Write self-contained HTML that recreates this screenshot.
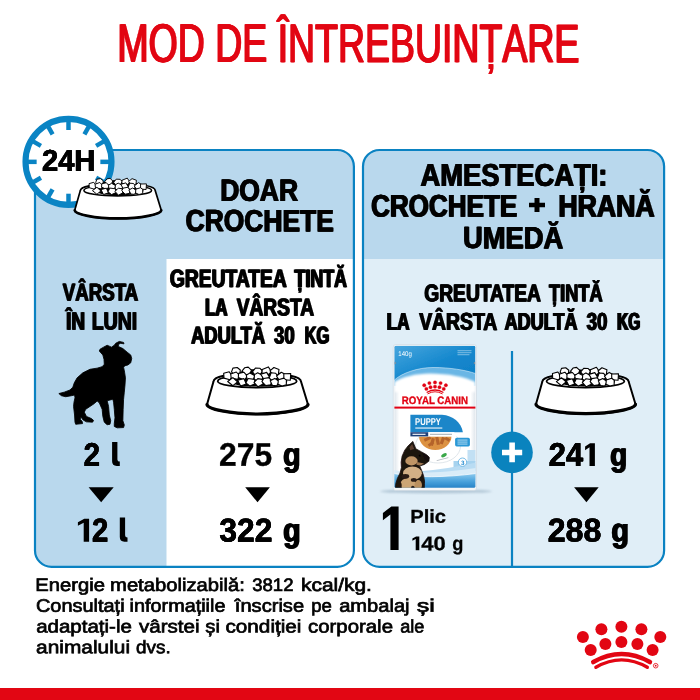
<!DOCTYPE html>
<html lang="ro"><head><meta charset="utf-8"><title>Mod de întrebuințare</title>
<style>
html,body{margin:0;padding:0;background:#fff;}
body{width:700px;height:700px;overflow:hidden;font-family:"Liberation Sans",sans-serif;}
svg{display:block;font-family:"Liberation Sans",sans-serif;text-rendering:geometricPrecision;}
</style></head><body>
<svg width="700" height="700" viewBox="0 0 700 700">
<defs>
<clipPath id="cpL"><rect x="35" y="150" width="318.9" height="416.9" rx="16.5" ry="16.5"/></clipPath>
<clipPath id="cpR"><rect x="363" y="150" width="301.1" height="416.9" rx="16.5" ry="16.5"/></clipPath>
<symbol id="bowl" viewBox="0 0 105 51" overflow="visible">
<path d="M8.5,16.5 C8.5,10.5 30,8.5 52,8.5 C75,8.5 96,10.500 96,16.5 L103,39.5 C103,44 80,49.3 52.5,49.3 C25,49.3 2,44 2,39.5 Z" fill="#fff" stroke="#000" stroke-width="2" stroke-linejoin="round"/>
<path d="M2,39.5 C2.5,44 25,49 52.5,49 C80,49 102.5,44 103,39.5" fill="none" stroke="#000" stroke-width="3.2" stroke-linecap="round"/>
<ellipse cx="52.2" cy="16.2" rx="39.5" ry="6.4" fill="#fff" stroke="#000" stroke-width="1.8"/>
<path d="M24,16 C24,11 30,8 36,6.500 C42,4 50,4 56,4 C64,4 72,6 77,9 C81,11 83,14 82,17.500 C76,21.500 60,22 50,21.500 C38,21.500 27,20 24,16 Z" fill="#000"/>
<g fill="#fff" stroke="#000" stroke-width="1.1" stroke-linejoin="round">
<path d="M26.5,6.9 L27.9,3.1 L32.2,2.5 L35.3,5.0 L34.8,9.3 L29.7,10.3 Z"/>
<path d="M39.6,2.8 L43.2,2.1 L46.4,5.2 L44.9,9.0 L40.0,9.9 L37.1,5.9 Z"/>
<path d="M57.4,5.9 L55.0,10.1 L49.5,9.4 L47.4,6.8 L50.4,3.1 L55.0,3.3 Z"/>
<path d="M57.0,8.0 L57.2,4.4 L63.3,1.9 L66.2,6.2 L64.2,9.3 Z"/>
<path d="M68.0,10.1 L64.9,5.8 L68.9,2.5 L74.0,4.4 L73.3,9.9 Z"/>
<path d="M27.6,11.2 L24.9,14.8 L19.0,13.1 L18.7,8.3 L24.2,6.8 Z"/>
<path d="M26.2,13.1 L25.7,9.0 L31.3,7.0 L35.2,11.2 L32.4,14.4 Z"/>
<path d="M42.5,11.2 L39.3,15.0 L33.3,12.5 L33.6,8.4 L39.0,7.3 Z"/>
<path d="M47.9,15.4 L42.2,14.7 L41.3,10.4 L44.9,7.9 L50.0,10.7 Z"/>
<path d="M52.1,16.1 L49.1,14.0 L49.5,9.6 L52.7,7.7 L57.7,10.5 L57.6,14.0 Z"/>
<path d="M64.8,12.7 L59.3,15.1 L55.7,9.2 L61.7,7.4 Z"/>
<path d="M66.1,7.8 L70.7,8.2 L73.6,12.3 L67.8,16.0 L64.1,13.4 Z"/>
<path d="M73.9,14.7 L71.5,11.0 L76.3,7.2 L81.1,9.8 L79.4,14.8 Z"/>
<path d="M85.7,8.6 L85.3,15.2 L78.9,14.7 L78.8,8.8 Z"/>
<path d="M32.5,16.9 L27.9,20.7 L22.7,16.5 L27.9,12.6 Z"/>
<path d="M35.6,21.1 L32.7,15.3 L38.9,13.6 L41.3,19.0 Z"/>
<path d="M43.0,13.5 L49.6,14.4 L50.1,18.8 L45.0,21.1 L40.9,17.9 Z"/>
<path d="M57.4,14.4 L58.1,19.1 L53.0,21.8 L49.0,17.4 L52.8,13.6 Z"/>
<path d="M56.9,16.6 L58.7,13.5 L64.0,12.6 L67.0,16.4 L65.6,19.7 L60.8,20.6 Z"/>
<path d="M65.2,15.7 L69.7,13.4 L74.3,16.5 L71.7,20.9 L67.4,20.4 Z"/>
<path d="M81.3,19.9 L77.0,21.0 L73.0,19.2 L73.3,14.8 L78.8,13.1 L81.4,15.1 Z"/>
</g>
</symbol>
</defs>
<g id="panelL">
<rect x="35" y="150" width="318.9" height="416.9" rx="16.5" ry="16.5" fill="#b9d8ed"/>
<rect x="166.5" y="259" width="200" height="320" fill="#fff" clip-path="url(#cpL)"/>
<rect x="35" y="150" width="318.9" height="416.9" rx="16.5" ry="16.5" fill="none" stroke="#0a82c2" stroke-width="2.2"/>
</g>
<g id="panelR">
<rect x="363" y="150" width="301.1" height="416.9" rx="16.5" ry="16.5" fill="#e0eef7"/>
<rect x="363" y="150" width="301" height="109" fill="#b9d8ed" clip-path="url(#cpR)"/>
<rect x="510.9" y="351" width="2.2" height="216" fill="#0a82c2"/>
<rect x="363" y="150" width="301.1" height="416.9" rx="16.5" ry="16.5" fill="none" stroke="#0a82c2" stroke-width="2.2"/>
<circle cx="512" cy="452.4" r="20.8" fill="#0a83be"/>
<path d="M502 449.8h7.3v-7.2h5.6v7.2h7.3v5.4h-7.3v7h-5.6v-7h-7.3z" fill="#fff"/>
</g>
<g id="clock">
<circle cx="68.5" cy="161.85" r="43" fill="#fff" stroke="#0a84c4" stroke-width="6.1"/>
<g stroke="#0a84c4" stroke-width="4.5" id="ticks">
<line x1="68.5" y1="121" x2="68.5" y2="130"/>
<line x1="68.5" y1="121" x2="68.5" y2="130" transform="rotate(30 68.5 161.85)"/>
<line x1="68.5" y1="121" x2="68.5" y2="130" transform="rotate(60 68.5 161.85)"/>
<line x1="68.5" y1="121" x2="68.5" y2="130" transform="rotate(90 68.5 161.85)"/>
<line x1="68.5" y1="121" x2="68.5" y2="130" transform="rotate(120 68.5 161.85)"/>
<line x1="68.5" y1="121" x2="68.5" y2="130" transform="rotate(150 68.5 161.85)"/>
<line x1="68.5" y1="121" x2="68.5" y2="130" transform="rotate(180 68.5 161.85)"/>
<line x1="68.5" y1="121" x2="68.5" y2="130" transform="rotate(210 68.5 161.85)"/>
<line x1="68.5" y1="121" x2="68.5" y2="130" transform="rotate(240 68.5 161.85)"/>
<line x1="68.5" y1="121" x2="68.5" y2="130" transform="rotate(270 68.5 161.85)"/>
<line x1="68.5" y1="121" x2="68.5" y2="130" transform="rotate(300 68.5 161.85)"/>
<line x1="68.5" y1="121" x2="68.5" y2="130" transform="rotate(330 68.5 161.85)"/>
</g>
</g>
<use href="#bowl" x="73" y="176.500" width="90" height="43.700"/>
<use href="#bowl" x="205" y="365" width="105" height="51"/>
<use href="#bowl" x="534" y="365.300" width="103.500" height="50.300"/>
<g id="dog" transform="translate(50,335) scale(0.142857)">
<path d="M62,410 L100,400 L140,385 L160,365 L170,335 L190,300 L230,265 L280,240 L330,232 L365,222 L380,205 L378,170 L370,140 L345,112 L350,100 L375,85 L400,72 L415,78 L430,85 L450,72 L460,58 L485,45 L515,52 L518,62 L495,58 L480,65 L478,80 L510,95 L540,120 L565,140 L572,165 L565,195 L545,210 L525,215 L515,225 L522,260 L528,300 L525,350 L520,400 L515,450 L512,520 L510,600 L520,630 L515,648 L470,650 L450,640 L450,620 L455,580 L450,520 L445,470 L440,450 L420,455 L400,460 L410,500 L415,560 L425,600 L420,625 L400,628 L380,610 L370,570 L365,520 L345,475 L330,462 L310,480 L280,500 L250,520 L240,540 L255,570 L290,585 L305,598 L298,610 L255,608 L232,595 L215,572 L212,590 L225,605 L228,620 L180,625 L175,610 L172,560 L165,500 L168,470 L175,440 L172,420 L150,425 L110,432 L80,425 Z" fill="#000" stroke="#000" stroke-width="6" stroke-linejoin="round"/>
</g>
<path id="plusTxt" d="M529,202.700 h5.500 v-4.700 h5 v4.700 h5.500 v4.600 h-5.500 v4.800 h-5 v-4.800 h-5.500 z" fill="#000"/>
<path id="one" d="M398.6,506.4 V550 H390.4 V514.6 L382.9,520.2 V512.9 L391.4,506.4 Z" fill="#000"/>
<path id="ones" d="M89.1,518.7 L89.1,541.7 L83.7,541.7 L83.7,522.8 L77.9,525.8 L77.9,522.2 L84.3,518.7 Z M594.9,443.2 L594.9,465.9 L589.5,465.9 L589.5,447.3 L585.1,450.2 L585.1,446.6 L590.1,443.2 Z M419.3,536.4 L419.3,550.3 L415.7,550.3 L415.7,538.9 L412.4,540.7 L412.4,538.5 L416.1,536.4 Z" fill="#000"/>
<path id="ells" d="M112.1,441.9 H117.4 V459.4 Q117.4,461.6 119.8,461.6 V465.9 H116.7 Q112.1,465.9 112.1,461.3 Z M119.8,517.6 H125.1 V535.2 Q125.1,537.4 127.5,537.4 V541.7 H124.4 Q119.8,541.7 119.8,537.1 Z" fill="#000"/>
<g id="tri" fill="#000">
<path d="M88.6,487.2 h25.1 l-12.55,15.1 z"/>
<path d="M245.2,487.2 h24.7 l-12.35,15.1 z"/>
<path d="M574.1,487.2 h24.6 l-12.3,15.1 z"/>
</g>
<g id="crown"><use href="#crownG"/><circle cx="655.7" cy="665.7" r="2.3" fill="none" stroke="#e20613" stroke-width="0.8"/><circle cx="655.7" cy="665.7" r="0.9" fill="#e20613"/></g>
<defs>
<linearGradient id="pgTop" x1="0" y1="0" x2="1" y2="1"><stop offset="0" stop-color="#47a6de"/><stop offset="0.55" stop-color="#1487cd"/><stop offset="1" stop-color="#0f7fc6"/></linearGradient>
<linearGradient id="pgWave" x1="0" y1="0" x2="0" y2="1"><stop offset="0" stop-color="#8ccaee"/><stop offset="0.5" stop-color="#46a0db"/><stop offset="1" stop-color="#1b78bf"/></linearGradient>
<linearGradient id="pgSide" x1="0" y1="0" x2="1" y2="0"><stop offset="0" stop-color="#dfe6ec"/><stop offset="0.06" stop-color="#ffffff"/><stop offset="0.94" stop-color="#ffffff"/><stop offset="1" stop-color="#dfe6ec"/></linearGradient>
<clipPath id="cpP"><rect x="394.4" y="345.8" width="81" height="142" rx="1.5"/></clipPath>
<clipPath id="cpPlate"><rect x="410" y="436.4" width="66" height="40"/></clipPath>
<filter id="blurS" x="-5%" y="-5%" width="110%" height="110%"><feGaussianBlur stdDeviation="0.45"/></filter>
<filter id="blurE" x="-10%" y="-30%" width="120%" height="160%"><feGaussianBlur stdDeviation="0.9"/></filter>
<filter id="blurM" x="-20%" y="-20%" width="140%" height="140%"><feGaussianBlur stdDeviation="1.2"/></filter>
<filter id="blurD" x="-10%" y="-10%" width="120%" height="120%"><feGaussianBlur stdDeviation="4"/></filter>
<g id="crownG" fill="#e20613">
<circle cx="582.9" cy="637.1" r="6"/><circle cx="601.4" cy="629.3" r="6"/><circle cx="621.4" cy="626.7" r="6"/><circle cx="641.4" cy="629.3" r="6"/><circle cx="660.3" cy="637.1" r="6"/>
<circle cx="590.7" cy="650" r="6"/><circle cx="605.4" cy="644" r="6"/><circle cx="621.4" cy="641.9" r="6"/><circle cx="637.4" cy="644" r="6"/><circle cx="652.6" cy="650" r="6"/>
<path d="M593.3,662 Q621.6,646 649.9,662" fill="none" stroke="#e20613" stroke-width="4.6" stroke-linecap="round"/>
<path d="M595.9,667.3 Q621.6,652.5 647.3,667.3" fill="none" stroke="#e20613" stroke-width="3.4" stroke-linecap="round"/>
</g>
</defs>
<g id="pouch">
<ellipse cx="436" cy="491.3" rx="56" ry="2.2" fill="#8fa9bd" opacity="0.55" filter="url(#blurM)"/>
<g filter="url(#blurS)">
<rect x="393.2" y="344.6" width="83.3" height="146" rx="2.5" fill="#f3f6f8" stroke="#c5d0da" stroke-width="0.5"/>
<g clip-path="url(#cpP)">
<rect x="394.4" y="345.8" width="81" height="143.6" fill="url(#pgSide)"/>
<!-- top band -->
<rect x="394.4" y="345.8" width="81" height="40" fill="#6ab6e5"/>
<path d="M394.4,382 C402,377 416,373.500 430,373.500 C448,373.500 465,377 475.4,382 V392 H394.4 Z" fill="#fff" filter="url(#blurE)"/>
<path d="M394.4,345.8 H475.4 V373.500 C465,370 450,367.500 433,367.500 C418,367.500 402,373 394.4,380 Z" fill="url(#pgTop)"/>
<path d="M394.4,380 C402,373 418,367.500 433,367.500 C450,367.500 465,370 475.4,373.500" fill="none" stroke="#fff" stroke-width="0.600" opacity="0.800"/>
<text x="398.300" y="355.900" font-size="6.800" fill="#fff" textLength="13.500" lengthAdjust="spacingAndGlyphs">140g</text>
<g fill="#fff" opacity="0.5"><rect x="457.500" y="350.300" width="14" height="0.9"/><rect x="457.500" y="352.300" width="14" height="0.9"/><rect x="457.500" y="354.300" width="12" height="0.9"/></g>
<path d="M394.400,361.500 l2,1.600 l-2,1.600 z M475.400,361.500 l-2,1.600 l2,1.600 z" fill="#8a8f96"/>
<!-- logo -->
<use href="#crownG" transform="translate(261,206.900) scale(0.28)" stroke="#e20613" stroke-width="1.2"/>
<text transform="translate(401.800,404.400) scale(1.020,1)" font-size="10.800" font-weight="bold" fill="#e20613" stroke="#e20613" stroke-width="0.35" textLength="64.900" lengthAdjust="spacingAndGlyphs">ROYAL CANIN</text>
<rect x="393" y="406.600" width="84" height="2" fill="#e20613"/>
<!-- plate + food -->
<g clip-path="url(#cpPlate)">
<ellipse cx="438" cy="446" rx="22.500" ry="17" fill="#fff" stroke="#d3dbe3" stroke-width="0.700"/>
<path d="M419,436 H451.500 A16.250,14 0 0 1 419,436 Z" fill="#dc9243"/>
<g fill="#b5642b"><rect x="424" y="437.500" width="7" height="3" transform="rotate(-25 427 439)"/><rect x="431" y="438" width="3.200" height="7.500" transform="rotate(15 432 441)"/><rect x="436" y="437" width="3.200" height="8" transform="rotate(-12 437 441)"/><rect x="441" y="437" width="3.200" height="7" transform="rotate(20 442 440)"/><rect x="445" y="437.500" width="5" height="3" transform="rotate(30 447 439)"/><rect x="428" y="442.500" width="6" height="2.800" transform="rotate(-35 431 444)"/></g>
</g>
<!-- PUPPY label -->
<path d="M410.400,414.700 H442 C453,415.500 461,422 462.900,432.200 H410.400 Z" fill="#1f86c9"/>
<text transform="translate(415.100,425) scale(0.760,1)" font-size="10" font-weight="bold" fill="#fff">PUPPY</text>
<rect x="415.300" y="427.300" width="27" height="1.500" fill="#fff" opacity="0.700"/>
<rect x="410.400" y="432.200" width="44" height="4.200" fill="#fff"/>
<rect x="410.400" y="432.200" width="17.800" height="4.200" fill="#1d3f7a"/>
<rect x="412.500" y="433.700" width="13" height="1.300" fill="#fff" opacity="0.850"/>
<rect x="430" y="433.800" width="22" height="1" fill="#7b8792" opacity="0.700"/>
<!-- small blue box -->
<rect x="455.100" y="437.800" width="14.800" height="8.600" rx="1.600" fill="#2a98d6"/>
<g fill="#fff" opacity="0.700"><rect x="457.500" y="439.600" width="10" height="0.900"/><rect x="457.500" y="441.600" width="10" height="0.900"/><rect x="457.500" y="443.600" width="10" height="0.900"/></g>
<ellipse cx="444" cy="455.300" rx="3.100" ry="1.700" transform="rotate(-28 444 455.300)" fill="#3aa84a"/>
<rect x="436.500" y="458.800" width="12" height="0.900" fill="#7b8792" opacity="0.600" transform="rotate(-14 442 459)"/>
<!-- steps and waves -->
<path d="M467.500,450 H476 V462 H467.500 Z" fill="#c2e0f4"/>
<path d="M453.500,461 H476 V471 H453.500 Z" fill="#a7d3ef"/>
<path d="M418,471.500 C438,470 458,466.500 476,462.500 V480 H418 Z" fill="#b9dcf3"/>
<path d="M394,470 C410,474 440,473.500 476,468 V480 H394 Z" fill="#d9ecf8"/>
<path d="M394,473.500 C415,478 445,477.500 476,473.500 V490 H394 Z" fill="url(#pgWave)"/>
<path d="M394,473.500 C415,478 445,477.500 476,473.500" fill="none" stroke="#fff" stroke-width="0.800" opacity="0.900"/>
<circle cx="462.500" cy="462.200" r="4.200" fill="#fff" stroke="#56abdf" stroke-width="0.800"/>
<text x="460.900" y="464.500" font-size="6.300" font-weight="bold" fill="#2a8fd2">3</text>
<!-- puppy -->
<g filter="url(#blurD)" transform="translate(388,430) scale(0.13428)">
<path d="M185,85 L207,140 L250,163 L290,186 L308,205 L304,232 L272,256 L236,268 L250,300 L265,340 L272,380 L270,446 L55,446 L58,400 L70,360 L90,320 L100,280 L98,240 L105,195 L125,150 L150,118 Z" fill="#1c1410" stroke="#1c1410" stroke-width="6" stroke-linejoin="round"/>
<path d="M180,105 L195,142 L165,150 L160,128 Z" fill="#5a3e2d"/>
<ellipse cx="175" cy="230" rx="46" ry="34" fill="#bf9566"/>
<path d="M215,238 L268,250 L240,264 L212,258 Z" fill="#9c7650"/>
<ellipse cx="182" cy="322" rx="70" ry="50" fill="#d2b086"/>
<ellipse cx="150" cy="405" rx="58" ry="48" fill="#cba575"/>
<ellipse cx="225" cy="410" rx="28" ry="38" fill="#b9905f"/>
<ellipse cx="130" cy="345" rx="28" ry="18" fill="#2a1d16"/>
<ellipse cx="192" cy="372" rx="22" ry="14" fill="#2a1d16"/>
<ellipse cx="84" cy="415" rx="18" ry="30" fill="#20160f"/>
<ellipse cx="185" cy="432" rx="14" ry="16" fill="#2a1d16"/>
<circle cx="236" cy="192" r="7" fill="#000"/>
<path d="M255,170 L306,202 L304,230 L275,222 Z" fill="#120d0a"/>
</g>
</g>
</g>
</g>

<rect x="0" y="688" width="700" height="12" fill="#e20613"/>

<g id="texts" opacity="0.999">
<text id="t0" transform="translate(117.42,61.75) skewY(0.05) scale(0.6922,1)" font-size="54.11" font-weight="normal" fill="#e20613" stroke="#e20613" stroke-width="0.50" vector-effect="non-scaling-stroke">MOD DE ÎNTREBUINȚARE</text>
<text id="t1" transform="translate(42.07,170.83) skewY(0.05) scale(0.9705,1)" font-size="29.96" font-weight="bold" fill="#000" stroke="#000" stroke-width="0.30" vector-effect="non-scaling-stroke">24H</text>
<text id="t2" transform="translate(220.15,200.72) skewY(0.05) scale(0.8665,1)" font-size="30.55" font-weight="bold" fill="#000" stroke="#000" stroke-width="0.30" vector-effect="non-scaling-stroke">DOAR</text>
<text id="t3" transform="translate(185.62,231.09) skewY(0.05) scale(0.8645,1)" font-size="30.55" font-weight="bold" fill="#000" stroke="#000" stroke-width="0.30" vector-effect="non-scaling-stroke">CROCHETE</text>
<text id="t4" transform="translate(62.72,300.52) skewY(0.05) scale(0.7698,1)" font-size="24.29" font-weight="bold" fill="#000" stroke="#000" stroke-width="0.30" vector-effect="non-scaling-stroke">VÂRSTA</text>
<text id="t5" transform="translate(66.18,329.44) skewY(0.05) scale(0.7671,1)" font-size="24.73" font-weight="bold" fill="#000" stroke="#000" stroke-width="0.30" vector-effect="non-scaling-stroke">ÎN</text>
<text id="t6" transform="translate(91.73,329.43) skewY(0.05) scale(0.7871,1)" font-size="24.73" font-weight="bold" fill="#000" stroke="#000" stroke-width="0.30" vector-effect="non-scaling-stroke">LUNI</text>
<text id="t7" transform="translate(169.87,286.90) skewY(0.05) scale(0.7649,1)" font-size="25.16" font-weight="bold" fill="#000" stroke="#000" stroke-width="0.30" vector-effect="non-scaling-stroke">GREUTATEA</text>
<text id="t8" transform="translate(294.57,286.93) skewY(0.05) scale(0.7071,1)" font-size="25.16" font-weight="bold" fill="#000" stroke="#000" stroke-width="0.30" vector-effect="non-scaling-stroke">ȚINTĂ</text>
<text id="t9" transform="translate(204.95,315.44) skewY(0.05) scale(0.6933,1)" font-size="24.44" font-weight="bold" fill="#000" stroke="#000" stroke-width="0.30" vector-effect="non-scaling-stroke">LA</text>
<text id="t10" transform="translate(236.69,315.42) skewY(0.05) scale(0.7840,1)" font-size="24.44" font-weight="bold" fill="#000" stroke="#000" stroke-width="0.30" vector-effect="non-scaling-stroke">VÂRSTA</text>
<text id="t11" transform="translate(191.18,343.42) skewY(0.05) scale(0.7490,1)" font-size="24.44" font-weight="bold" fill="#000" stroke="#000" stroke-width="0.30" vector-effect="non-scaling-stroke">ADULTĂ</text>
<text id="t12" transform="translate(273.96,343.44) skewY(0.05) scale(0.7611,1)" font-size="24.44" font-weight="bold" fill="#000" stroke="#000" stroke-width="0.30" vector-effect="non-scaling-stroke">30</text>
<text id="t13" transform="translate(304.61,343.44) skewY(0.05) scale(0.6726,1)" font-size="24.44" font-weight="bold" fill="#000" stroke="#000" stroke-width="0.30" vector-effect="non-scaling-stroke">KG</text>
<text id="t14" transform="translate(83.67,465.74) skewY(0.05) scale(0.9021,1)" font-size="32.58" font-weight="bold" fill="#000" stroke="#000" stroke-width="0.30" vector-effect="non-scaling-stroke">2</text>
<text id="t15" transform="translate(91.92,541.54) skewY(0.05) scale(0.8846,1)" font-size="33.02" font-weight="bold" fill="#000" stroke="#000" stroke-width="0.30" vector-effect="non-scaling-stroke">2</text>
<text id="t16" transform="translate(219.02,465.73) skewY(0.05) scale(0.9775,1)" font-size="32.58" font-weight="bold" fill="#000" stroke="#000" stroke-width="0.30" vector-effect="non-scaling-stroke">275</text>
<text id="t17" transform="translate(283.02,465.74) skewY(0.05) scale(0.8845,1)" font-size="32.58" font-weight="bold" fill="#000" stroke="#000" stroke-width="0.30" vector-effect="non-scaling-stroke">g</text>
<text id="t18" transform="translate(219.37,541.53) skewY(0.05) scale(0.9633,1)" font-size="33.02" font-weight="bold" fill="#000" stroke="#000" stroke-width="0.30" vector-effect="non-scaling-stroke">322</text>
<text id="t19" transform="translate(283.08,541.54) skewY(0.05) scale(0.8668,1)" font-size="33.02" font-weight="bold" fill="#000" stroke="#000" stroke-width="0.30" vector-effect="non-scaling-stroke">g</text>
<text id="t20" transform="translate(420.42,185.67) skewY(0.05) scale(0.8754,1)" font-size="31.27" font-weight="bold" fill="#000" stroke="#000" stroke-width="0.30" vector-effect="non-scaling-stroke">AMESTECAȚI:</text>
<text id="t21" transform="translate(371.11,216.49) skewY(0.05) scale(0.8365,1)" font-size="31.13" font-weight="bold" fill="#000" stroke="#000" stroke-width="0.30" vector-effect="non-scaling-stroke">CROCHETE</text>
<text id="t22" transform="translate(558.38,216.51) skewY(0.05) scale(0.8560,1)" font-size="31.13" font-weight="bold" fill="#000" stroke="#000" stroke-width="0.30" vector-effect="non-scaling-stroke">HRANĂ</text>
<text id="t23" transform="translate(463.07,248.11) skewY(0.05) scale(0.8949,1)" font-size="30.55" font-weight="bold" fill="#000" stroke="#000" stroke-width="0.30" vector-effect="non-scaling-stroke">UMEDĂ</text>
<text id="t24" transform="translate(424.28,301.20) skewY(0.05) scale(0.8006,1)" font-size="24.00" font-weight="bold" fill="#000" stroke="#000" stroke-width="0.30" vector-effect="non-scaling-stroke">GREUTATEA</text>
<text id="t25" transform="translate(549.04,301.23) skewY(0.05) scale(0.7578,1)" font-size="24.00" font-weight="bold" fill="#000" stroke="#000" stroke-width="0.30" vector-effect="non-scaling-stroke">ȚINTĂ</text>
<text id="t26" transform="translate(386.71,329.84) skewY(0.05) scale(0.7058,1)" font-size="24.29" font-weight="bold" fill="#000" stroke="#000" stroke-width="0.30" vector-effect="non-scaling-stroke">LA</text>
<text id="t27" transform="translate(419.16,329.82) skewY(0.05) scale(0.7975,1)" font-size="24.29" font-weight="bold" fill="#000" stroke="#000" stroke-width="0.30" vector-effect="non-scaling-stroke">VÂRSTA</text>
<text id="t28" transform="translate(504.59,329.82) skewY(0.05) scale(0.7431,1)" font-size="24.29" font-weight="bold" fill="#000" stroke="#000" stroke-width="0.30" vector-effect="non-scaling-stroke">ADULTĂ</text>
<text id="t29" transform="translate(586.63,329.84) skewY(0.05) scale(0.7712,1)" font-size="24.29" font-weight="bold" fill="#000" stroke="#000" stroke-width="0.30" vector-effect="non-scaling-stroke">30</text>
<text id="t30" transform="translate(617.14,329.84) skewY(0.05) scale(0.6341,1)" font-size="24.29" font-weight="bold" fill="#000" stroke="#000" stroke-width="0.30" vector-effect="non-scaling-stroke">KG</text>
<text id="t31" transform="translate(410.24,522.83) skewY(0.05) scale(1.0821,1)" font-size="18.62" font-weight="bold" fill="#000" stroke="#000" stroke-width="0.30" vector-effect="non-scaling-stroke">Plic</text>
<text id="t32" transform="translate(421.22,550.14) skewY(0.05) scale(1.1100,1)" font-size="19.78" font-weight="bold" fill="#000" stroke="#000" stroke-width="0.30" vector-effect="non-scaling-stroke">40</text>
<text id="t33" transform="translate(452.32,550.15) skewY(0.05) scale(0.9209,1)" font-size="19.78" font-weight="bold" fill="#000" stroke="#000" stroke-width="0.30" vector-effect="non-scaling-stroke">g</text>
<text id="t34" transform="translate(548.70,465.74) skewY(0.05) scale(0.9520,1)" font-size="32.58" font-weight="bold" fill="#000" stroke="#000" stroke-width="0.30" vector-effect="non-scaling-stroke">24</text>
<text id="t35" transform="translate(610.11,465.74) skewY(0.05) scale(0.8591,1)" font-size="32.58" font-weight="bold" fill="#000" stroke="#000" stroke-width="0.30" vector-effect="non-scaling-stroke">g</text>
<text id="t36" transform="translate(547.72,541.53) skewY(0.05) scale(0.9736,1)" font-size="33.02" font-weight="bold" fill="#000" stroke="#000" stroke-width="0.30" vector-effect="non-scaling-stroke">288</text>
<text id="t37" transform="translate(611.35,541.54) skewY(0.05) scale(0.8751,1)" font-size="33.02" font-weight="bold" fill="#000" stroke="#000" stroke-width="0.30" vector-effect="non-scaling-stroke">g</text>
<text transform="translate(35.34,591.02) skewY(0.05) scale(1.1187,1)" font-size="18.04" fill="#000" stroke="#000" stroke-width="0.70" vector-effect="non-scaling-stroke">Energie</text>
<text transform="translate(110.04,590.99) skewY(0.05) scale(1.1212,1)" font-size="18.04" fill="#000" stroke="#000" stroke-width="0.70" vector-effect="non-scaling-stroke">metabolizabilă:</text>
<text transform="translate(252.20,591.03) skewY(0.05) scale(1.0295,1)" font-size="18.04" fill="#000" stroke="#000" stroke-width="0.70" vector-effect="non-scaling-stroke">3812</text>
<text transform="translate(300.99,591.02) skewY(0.05) scale(1.1595,1)" font-size="18.04" fill="#000" stroke="#000" stroke-width="0.70" vector-effect="non-scaling-stroke">kcal/kg.</text>
<text transform="translate(35.95,611.71) skewY(0.05) scale(1.1051,1)" font-size="18.04" fill="#000" stroke="#000" stroke-width="0.70" vector-effect="non-scaling-stroke">Consultați</text>
<text transform="translate(129.56,611.71) skewY(0.05) scale(1.0998,1)" font-size="18.04" fill="#000" stroke="#000" stroke-width="0.70" vector-effect="non-scaling-stroke">informațiile</text>
<text transform="translate(234.85,611.72) skewY(0.05) scale(1.1140,1)" font-size="18.04" fill="#000" stroke="#000" stroke-width="0.70" vector-effect="non-scaling-stroke">înscrise</text>
<text transform="translate(311.23,611.74) skewY(0.05) scale(1.0308,1)" font-size="18.04" fill="#000" stroke="#000" stroke-width="0.70" vector-effect="non-scaling-stroke">pe</text>
<text transform="translate(339.15,611.72) skewY(0.05) scale(1.1155,1)" font-size="18.04" fill="#000" stroke="#000" stroke-width="0.70" vector-effect="non-scaling-stroke">ambalaj</text>
<text transform="translate(416.72,611.74) skewY(0.05) scale(1.3905,1)" font-size="18.04" fill="#000" stroke="#000" stroke-width="0.70" vector-effect="non-scaling-stroke">și</text>
<text transform="translate(36.13,632.51) skewY(0.05) scale(1.1370,1)" font-size="18.04" fill="#000" stroke="#000" stroke-width="0.70" vector-effect="non-scaling-stroke">adaptați-le</text>
<text transform="translate(138.95,632.52) skewY(0.05) scale(1.1423,1)" font-size="18.04" fill="#000" stroke="#000" stroke-width="0.70" vector-effect="non-scaling-stroke">vârstei</text>
<text transform="translate(205.34,632.54) skewY(0.05) scale(1.1265,1)" font-size="18.04" fill="#000" stroke="#000" stroke-width="0.70" vector-effect="non-scaling-stroke">și</text>
<text transform="translate(225.52,632.52) skewY(0.05) scale(1.1472,1)" font-size="18.04" fill="#000" stroke="#000" stroke-width="0.70" vector-effect="non-scaling-stroke">condiției</text>
<text transform="translate(308.03,632.51) skewY(0.05) scale(1.1298,1)" font-size="18.04" fill="#000" stroke="#000" stroke-width="0.70" vector-effect="non-scaling-stroke">corporale</text>
<text transform="translate(400.23,632.54) skewY(0.05) scale(1.0042,1)" font-size="18.04" fill="#000" stroke="#000" stroke-width="0.70" vector-effect="non-scaling-stroke">ale</text>
<text transform="translate(36.12,653.21) skewY(0.05) scale(1.1567,1)" font-size="18.04" fill="#000" stroke="#000" stroke-width="0.70" vector-effect="non-scaling-stroke">animalului</text>
<text transform="translate(136.09,653.24) skewY(0.05) scale(1.0496,1)" font-size="18.04" fill="#000" stroke="#000" stroke-width="0.70" vector-effect="non-scaling-stroke">dvs.</text>
<use href="#t0" x="-0.57"/><use href="#t0" x="0.57"/>
<use href="#t1" x="-0.29"/><use href="#t1" x="0.29"/>
<use href="#t2" x="-0.52"/><use href="#t2" x="0.52"/>
<use href="#t3" x="-0.53"/><use href="#t3" x="0.53"/>
<use href="#t4" x="-0.56"/><use href="#t4" x="0.56"/>
<use href="#t5" x="-0.58"/><use href="#t5" x="0.58"/>
<use href="#t6" x="-0.54"/><use href="#t6" x="0.54"/>
<use href="#t7" x="-0.59"/><use href="#t7" x="0.59"/>
<use href="#t8" x="-0.70"/><use href="#t8" x="0.70"/>
<use href="#t9" x="-0.70"/><use href="#t9" x="0.70"/>
<use href="#t10" x="-0.54"/><use href="#t10" x="0.54"/>
<use href="#t11" x="-0.60"/><use href="#t11" x="0.60"/>
<use href="#t12" x="-0.58"/><use href="#t12" x="0.58"/>
<use href="#t13" x="-0.73"/><use href="#t13" x="0.73"/>
<use href="#t14" x="-0.20"/><use href="#t14" x="0.20"/>
<use href="#t15" x="-0.24"/><use href="#t15" x="0.24"/>
<use href="#t17" x="-0.52"/><use href="#t17" x="0.52"/>
<use href="#t18" x="-0.06"/><use href="#t18" x="0.06"/>
<use href="#t19" x="-0.57"/><use href="#t19" x="0.57"/>
<use href="#t20" x="-0.52"/><use href="#t20" x="0.52"/>
<use href="#t21" x="-0.60"/><use href="#t21" x="0.60"/>
<use href="#t22" x="-0.56"/><use href="#t22" x="0.56"/>
<use href="#t23" x="-0.46"/><use href="#t23" x="0.46"/>
<use href="#t24" x="-0.50"/><use href="#t24" x="0.50"/>
<use href="#t25" x="-0.57"/><use href="#t25" x="0.57"/>
<use href="#t26" x="-0.67"/><use href="#t26" x="0.67"/>
<use href="#t27" x="-0.51"/><use href="#t27" x="0.51"/>
<use href="#t28" x="-0.61"/><use href="#t28" x="0.61"/>
<use href="#t29" x="-0.56"/><use href="#t29" x="0.56"/>
<use href="#t30" x="-0.79"/><use href="#t30" x="0.79"/>
<use href="#t34" x="-0.08"/><use href="#t34" x="0.08"/>
<use href="#t35" x="-0.58"/><use href="#t35" x="0.58"/>
<use href="#t36" x="-0.04"/><use href="#t36" x="0.04"/>
<use href="#t37" x="-0.55"/><use href="#t37" x="0.55"/>
</g>
</svg>
</body></html>
